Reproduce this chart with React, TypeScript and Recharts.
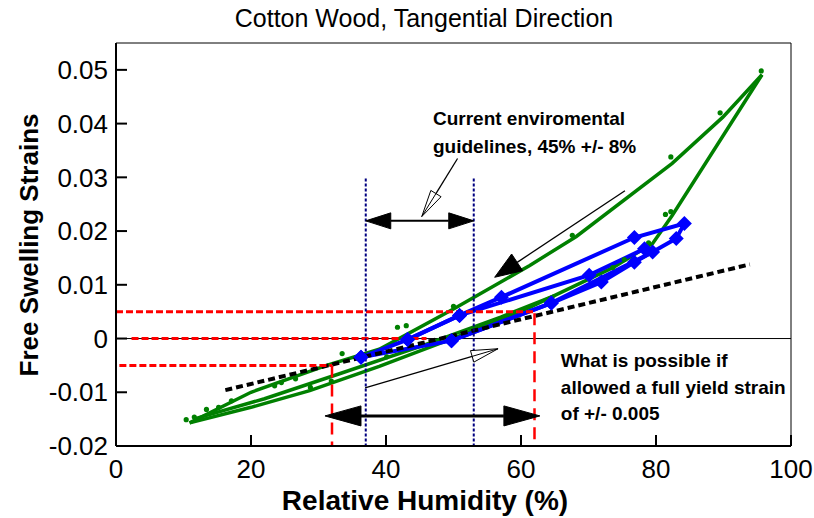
import React from 'react';
import {
  ComposedChart, Line, Scatter, XAxis, YAxis, ReferenceLine, ReferenceDot, Label,
} from 'recharts';

// ---- axis ticks ----
const xTicks = [0, 20, 40, 60, 80, 100];
const yTicks = [-0.02, -0.01, 0, 0.01, 0.02, 0.03, 0.04, 0.05];

// ---- green (cotton wood, measured loop) ----
const greenLower = [
  { x: 10.9, y: -0.0157 }, { x: 20, y: -0.0128 }, { x: 28.7, y: -0.0097 }, { x: 39, y: -0.0052 },
  { x: 50.9, y: 0.0005 }, { x: 61.3, y: 0.0058 }, { x: 73.6, y: 0.0132 }, { x: 79.5, y: 0.0177 },
  { x: 82.4, y: 0.0229 }, { x: 95.7, y: 0.0491 },
];
const greenUpper = [
  { x: 95.7, y: 0.0491 }, { x: 89.9, y: 0.0412 }, { x: 82.4, y: 0.0326 }, { x: 68.2, y: 0.019 },
  { x: 61.3, y: 0.0136 }, { x: 50, y: 0.0055 }, { x: 39, y: -0.002 }, { x: 31.2, y: -0.005 },
  { x: 20, y: -0.01 }, { x: 10.9, y: -0.0157 },
];
const greenMiddle = [
  { x: 11.5, y: -0.015 }, { x: 22, y: -0.0112 }, { x: 33, y: -0.0066 }, { x: 45, y: -0.0015 },
  { x: 57, y: 0.004 }, { x: 65, y: 0.008 },
];
const greenDots = [
  { x: 95.6, y: 0.0498 }, { x: 89.5, y: 0.042 }, { x: 82.2, y: 0.0338 }, { x: 67.6, y: 0.0192 },
  { x: 81.4, y: 0.0231 }, { x: 82.2, y: 0.0236 }, { x: 78.9, y: 0.0178 }, { x: 75.3, y: 0.0147 },
  { x: 73.6, y: 0.0132 }, { x: 50.0, y: 0.006 }, { x: 41.7, y: 0.0021 }, { x: 43.0, y: 0.0024 },
  { x: 40.1, y: -0.0034 }, { x: 33.5, y: -0.0028 }, { x: 31.9, y: -0.0079 }, { x: 28.8, y: -0.0091 },
  { x: 26.6, y: -0.0075 }, { x: 24.5, y: -0.0082 }, { x: 23.5, y: -0.0088 }, { x: 17.1, y: -0.0116 },
  { x: 15.2, y: -0.0128 }, { x: 13.4, y: -0.0132 }, { x: 11.6, y: -0.0146 }, { x: 10.4, y: -0.0151 },
];

// ---- blue (diamonds) ----
const blueLoop1 = [
  { x: 36.3, y: -0.0035 }, { x: 49.7, y: -0.0004 }, { x: 64.5, y: 0.0066 }, { x: 71.9, y: 0.0105 },
  { x: 76.8, y: 0.0142 }, { x: 83.0, y: 0.0186 }, { x: 84.2, y: 0.0214 }, { x: 76.8, y: 0.0188 },
  { x: 57.1, y: 0.0077 }, { x: 50.9, y: 0.0043 }, { x: 43.2, y: -0.0002 }, { x: 36.3, y: -0.0035 },
];
const blueLoop2 = [
  { x: 43.2, y: -0.0002 }, { x: 50.9, y: 0.0043 }, { x: 70.1, y: 0.0118 }, { x: 78.3, y: 0.0167 },
  { x: 79.5, y: 0.0161 }, { x: 64.5, y: 0.0066 }, { x: 49.7, y: -0.0004 },
];

// ---- straight guide lines ----
const blackDotted = [{ x: 16.2, y: -0.0096 }, { x: 93.9, y: 0.0138 }];
const redH1 = [{ x: 0, y: 0.005 }, { x: 62, y: 0.005 }];
const redH2 = [{ x: 2.3, y: 0 }, { x: 46, y: 0 }];
const redH3 = [{ x: 0.5, y: -0.005 }, { x: 32, y: -0.005 }];
const redV1 = [{ x: 32, y: -0.005 }, { x: 32, y: -0.02 }];
const redV2 = [{ x: 62, y: 0.0047 }, { x: 62, y: -0.02 }];
const navyV1 = [{ x: 37, y: 0.0298 }, { x: 37, y: -0.02 }];
const navyV2 = [{ x: 53, y: 0.0298 }, { x: 53, y: -0.02 }];

// ---- arrows: [tail, tip] ----
const arrowGuide = [{ x: 50.6, y: 0.0335 }, { x: 45.3, y: 0.0227 }];
const arrowDesorb = [{ x: 75.4, y: 0.0275 }, { x: 56.1, y: 0.0114 }];
const arrowPossible = [{ x: 36.9, y: -0.0092 }, { x: 56.6, y: -0.0019 }];
const arrowRangeTop = [{ x: 37, y: 0.0219 }, { x: 53, y: 0.0219 }];
const arrowRangeBottom = [{ x: 30.96, y: -0.0144 }, { x: 62.8, y: -0.0144 }];

// ---- text ----
const title = 'Cotton Wood, Tangential Direction';
const xLabel = 'Relative Humidity (%)';
const yLabel = 'Free Swelling Strains';
const guideText = ['Current enviromental', 'guidelines, 45% +/- 8%'];
const guideAnchor = { x: 46.96, y: 0.0398 };
const possibleText = ['What is possible if', 'allowed a full yield strain', 'of +/- 0.005'];
const possibleAnchor = { x: 65.9, y: -0.0053 };

const FONT = '"Liberation Sans", Arial, Helvetica, sans-serif';

type Head = { len: number; hw: number; open?: boolean };

function headPoly(tx: number, ty: number, fx: number, fy: number, h: Head) {
  const dx = tx - fx;
  const dy = ty - fy;
  const d = Math.sqrt(dx * dx + dy * dy) || 1;
  const ux = dx / d;
  const uy = dy / d;
  const bx = tx - ux * h.len;
  const by = ty - uy * h.len;
  const px = -uy;
  const py = ux;
  return {
    pts: `${tx},${ty} ${bx + px * h.hw},${by + py * h.hw} ${bx - px * h.hw},${by - py * h.hw}`,
    bx,
    by,
  };
}

function makeArrow(head: Head, both: boolean, width: number) {
  return (props: any) => {
    const x1 = Number(props.x1);
    const y1 = Number(props.y1);
    const x2 = Number(props.x2);
    const y2 = Number(props.y2);
    const h2 = headPoly(x2, y2, x1, y1, head);
    const h1 = both ? headPoly(x1, y1, x2, y2, head) : null;
    const sx = h1 ? h1.bx : x1;
    const sy = h1 ? h1.by : y1;
    return (
      <g>
        <line x1={sx} y1={sy} x2={h2.bx} y2={h2.by} stroke="#000" strokeWidth={width} />
        {h1 && (
          <polygon points={h1.pts} fill={head.open ? '#fff' : '#000'} stroke="#000" strokeWidth={1} />
        )}
        <polygon points={h2.pts} fill={head.open ? '#fff' : '#000'} stroke="#000" strokeWidth={1} />
        {head.open && <line x1={h2.bx} y1={h2.by} x2={x2} y2={y2} stroke="#000" strokeWidth={1} />}
      </g>
    );
  };
}

const diamond = (props: any) => {
  const { cx, cy, index } = props;
  if (cx == null || cy == null) return <g key={`d-${index}`} />;
  const s = 7.5;
  return (
    <polygon
      key={`d-${index}-${cx}`}
      points={`${cx},${cy - s} ${cx + s},${cy} ${cx},${cy + s} ${cx - s},${cy}`}
      fill="#0000ff"
    />
  );
};

const greenDot = (props: any) => <circle cx={props.cx} cy={props.cy} r={2.6} fill="#008000" />;

function multiLine(lines: string[], lh: number) {
  return (p: any) => {
    const vb = p.viewBox || {};
    const x = vb.x ?? 0;
    const y = vb.y ?? 0;
    return (
      <text x={x} y={y} fontFamily={FONT} fontWeight="bold" fontSize={19} fill="#000">
        {lines.map((l, i) => (
          <tspan key={i} x={x} dy={i === 0 ? 0 : lh}>{l}</tspan>
        ))}
      </text>
    );
  };
}

function seg(pts: { x: number; y: number }[]) {
  return [{ x: pts[0].x, y: pts[0].y }, { x: pts[1].x, y: pts[1].y }] as any;
}

export default function App() {
  return (
    <div style={{ position: 'absolute', left: 0, top: 0, width: 814, height: 518, background: '#fff' }}>
      <div
        style={{
          position: 'absolute', left: 0, top: 3, width: 848, textAlign: 'center',
          fontFamily: FONT, fontSize: 25, color: '#000', lineHeight: '30px',
        }}
      >
        {title}
      </div>
      <ComposedChart width={814} height={518} margin={{ top: 43, right: 23, bottom: 0, left: 0 }}>
        <XAxis
          type="number"
          dataKey="x"
          domain={[0, 100]}
          ticks={xTicks}
          allowDataOverflow
          height={72}
          tickSize={-11}
          tickMargin={25}
          axisLine={{ stroke: '#000', strokeWidth: 2 }}
          tickLine={{ stroke: '#000', strokeWidth: 2 }}
          tick={{ fontSize: 26, fill: '#000', fontFamily: FONT }}
        >
          <Label
            content={() => (
              <text x={425} y={510} textAnchor="middle" fontFamily={FONT} fontWeight="bold" fontSize={28} fill="#000">
                {xLabel}
              </text>
            )}
          />
        </XAxis>
        <YAxis
          type="number"
          dataKey="y"
          domain={[-0.02, 0.055]}
          ticks={yTicks}
          allowDataOverflow
          width={116}
          tickSize={-11}
          tickMargin={19}
          axisLine={{ stroke: '#000', strokeWidth: 2 }}
          tickLine={{ stroke: '#000', strokeWidth: 2 }}
          tick={{ fontSize: 26, fill: '#000', fontFamily: FONT }}
        >
          <Label
            content={() => (
              <text
                x={38}
                y={245}
                transform="rotate(-90, 38, 245)"
                textAnchor="middle"
                fontFamily={FONT}
                fontWeight="bold"
                fontSize={26}
                fill="#000"
              >
                {yLabel}
              </text>
            )}
          />
        </YAxis>

        <ReferenceLine y={0.055} stroke="#000" strokeWidth={1} />
        <ReferenceLine x={100} stroke="#000" strokeWidth={1} />
        <ReferenceLine y={0} stroke="#000" strokeWidth={1} />

        <Line data={greenLower} dataKey="y" stroke="#008000" strokeWidth={3.5} dot={false} isAnimationActive={false} />
        <Line data={greenUpper} dataKey="y" stroke="#008000" strokeWidth={3.5} dot={false} isAnimationActive={false} />
        <Line data={greenMiddle} dataKey="y" stroke="#008000" strokeWidth={3.5} dot={false} isAnimationActive={false} />
        <Scatter data={greenDots} dataKey="y" shape={greenDot} isAnimationActive={false} />

        <Line data={blueLoop1} dataKey="y" stroke="#0000ff" strokeWidth={4} dot={diamond} isAnimationActive={false} />
        <Line data={blueLoop2} dataKey="y" stroke="#0000ff" strokeWidth={4} dot={diamond} isAnimationActive={false} />

        <Line data={blackDotted} dataKey="y" stroke="#000" strokeWidth={4} strokeDasharray="7 4" dot={false} isAnimationActive={false} />

        <ReferenceLine segment={seg(redH1)} stroke="#ff0000" strokeWidth={3} strokeDasharray="7 3" />
        <ReferenceLine segment={seg(redH2)} stroke="#ff0000" strokeWidth={3} strokeDasharray="7 3" />
        <ReferenceLine segment={seg(redH3)} stroke="#ff0000" strokeWidth={3} strokeDasharray="7 3" />
        <ReferenceLine segment={seg(redV1)} stroke="#ff0000" strokeWidth={2.5} strokeDasharray="12 7" />
        <ReferenceLine segment={seg(redV2)} stroke="#ff0000" strokeWidth={2.5} strokeDasharray="12 7" />
        <ReferenceLine segment={seg(navyV1)} stroke="#000080" strokeWidth={2} strokeDasharray="3 2" />
        <ReferenceLine segment={seg(navyV2)} stroke="#000080" strokeWidth={2} strokeDasharray="3 2" />

        <ReferenceLine segment={seg(arrowGuide)} shape={makeArrow({ len: 27, hw: 6, open: true }, false, 1.3)} />
        <ReferenceLine segment={seg(arrowDesorb)} shape={makeArrow({ len: 27, hw: 10 }, false, 1.3)} />
        <ReferenceLine segment={seg(arrowPossible)} shape={makeArrow({ len: 27, hw: 6, open: true }, false, 1.3)} />
        <ReferenceLine segment={seg(arrowRangeTop)} shape={makeArrow({ len: 25, hw: 8 }, true, 2)} />
        <ReferenceLine segment={seg(arrowRangeBottom)} shape={makeArrow({ len: 36, hw: 10 }, true, 3)} />

        <ReferenceDot x={guideAnchor.x} y={guideAnchor.y} r={0} fill="none" stroke="none" label={{ content: multiLine(guideText, 28) }} />
        <ReferenceDot x={possibleAnchor.x} y={possibleAnchor.y} r={0} fill="none" stroke="none" label={{ content: multiLine(possibleText, 26.5) }} />
      </ComposedChart>
    </div>
  );
}
